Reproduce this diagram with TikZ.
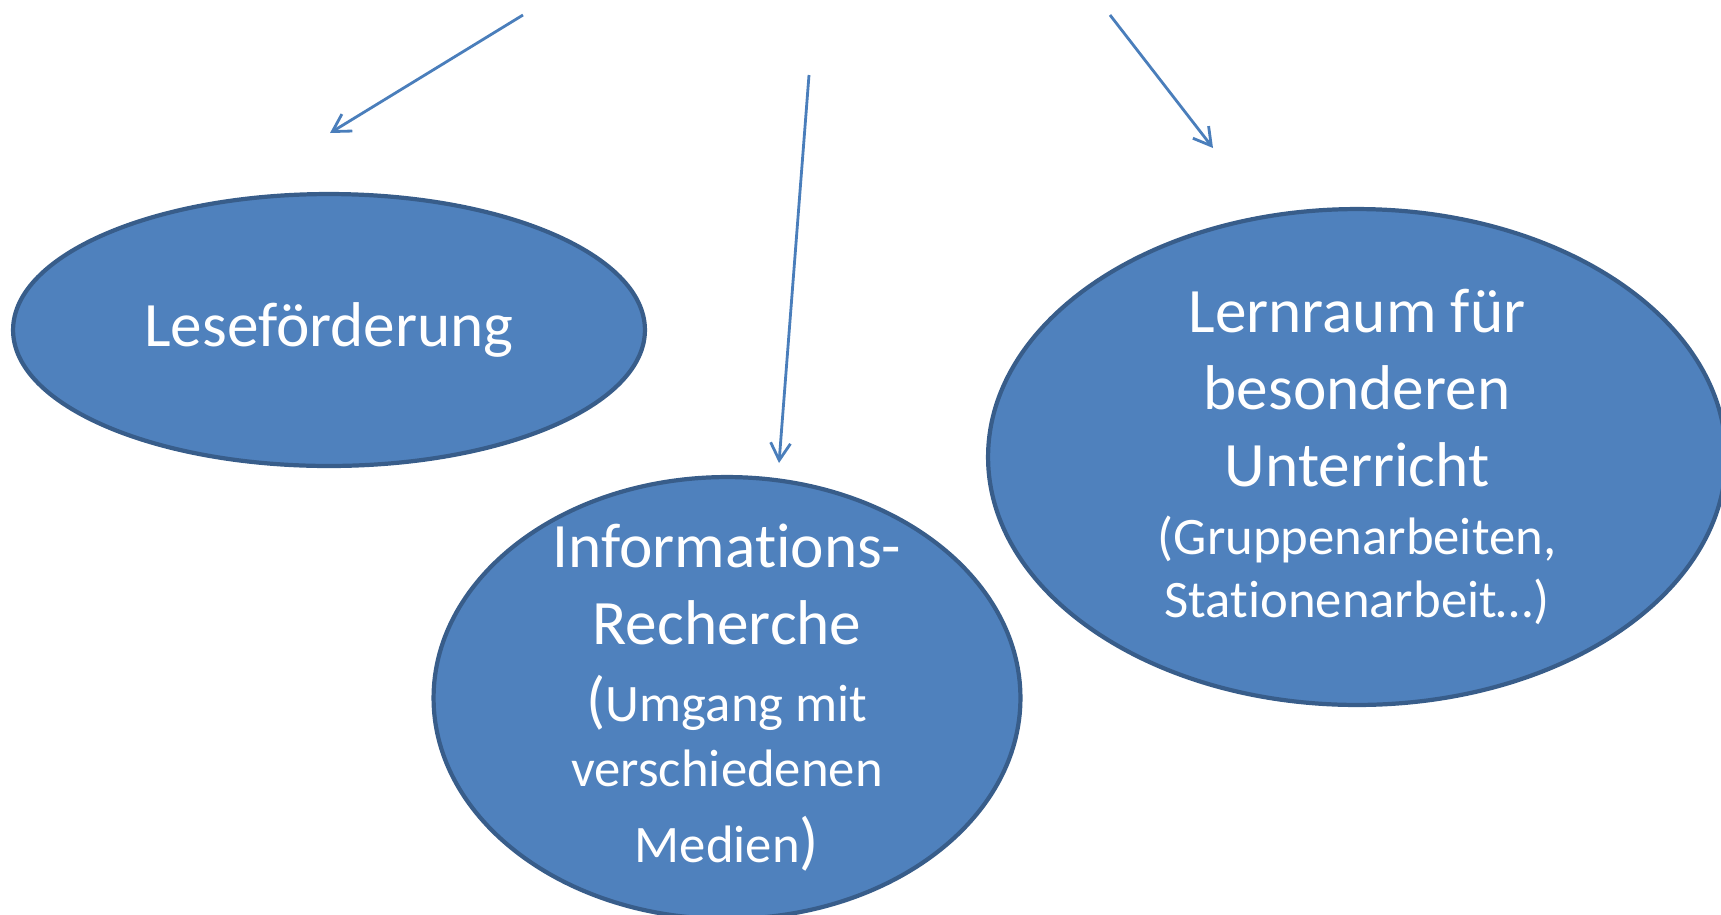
\documentclass[tikz,border=0pt]{standalone}
\usepackage{fontspec}
\setmainfont{Carlito}[Ligatures=NoCommon]
\usepackage{xcolor}
\usepackage{tikz}
\usetikzlibrary{arrows.meta,shapes.geometric}

\definecolor{bubblefill}{HTML}{4F81BD}
\definecolor{bubbleline}{HTML}{385D8A}
\definecolor{arrowblue}{HTML}{4A7EBB}

\begin{document}
\begin{tikzpicture}[x=0.02cm, y=-0.02cm,
    bubble/.style={draw=bubbleline, line width=2.4pt, fill=bubblefill, ellipse,
        inner sep=0pt, inner ysep=-30pt, text=white, align=center,
        font=\fontsize{36}{43.7}\selectfont},
    link/.style={arrowblue, line width=1.6pt, -{Straight Barb[length=9.8pt,width=11.3pt]}}]
\useasboundingbox (0,0) rectangle (1721,914);

\node[bubble, minimum width=12.64cm, minimum height=5.44cm] (lese) at (329,330) {Leseförderung};

\node[bubble, minimum width=11.74cm, minimum height=8.84cm] (recherche) at (727,698)
    {Informations-\\Recherche\\(\fontsize{30}{36}\selectfont Umgang mit\\[-7pt]
     \fontsize{30}{36}\selectfont verschiedenen\\\fontsize{30}{36}\selectfont Medien\fontsize{36}{43.7}\selectfont)};

\node[bubble, minimum width=14.76cm, minimum height=9.92cm] (lernraum) at (1357,457)
    {Lernraum für\\besonderen\\Unterricht\\[-5pt]
     \fontsize{30}{36}\selectfont (Gruppenarbeiten,\\[-8pt]\fontsize{30}{36}\selectfont Stationenarbeit…)};

\coordinate (from_lese) at (523,15);
\coordinate (to_lese) at (330,133);
\coordinate (from_recherche) at (809,75);
\coordinate (to_recherche) at (779,463);
\coordinate (from_lernraum) at (1110,15);
\coordinate (to_lernraum) at (1213,148);

\draw[link] (from_lese) -- (to_lese);
\draw[link] (from_recherche) -- (to_recherche);
\draw[link] (from_lernraum) -- (to_lernraum);

\end{tikzpicture}
\end{document}
